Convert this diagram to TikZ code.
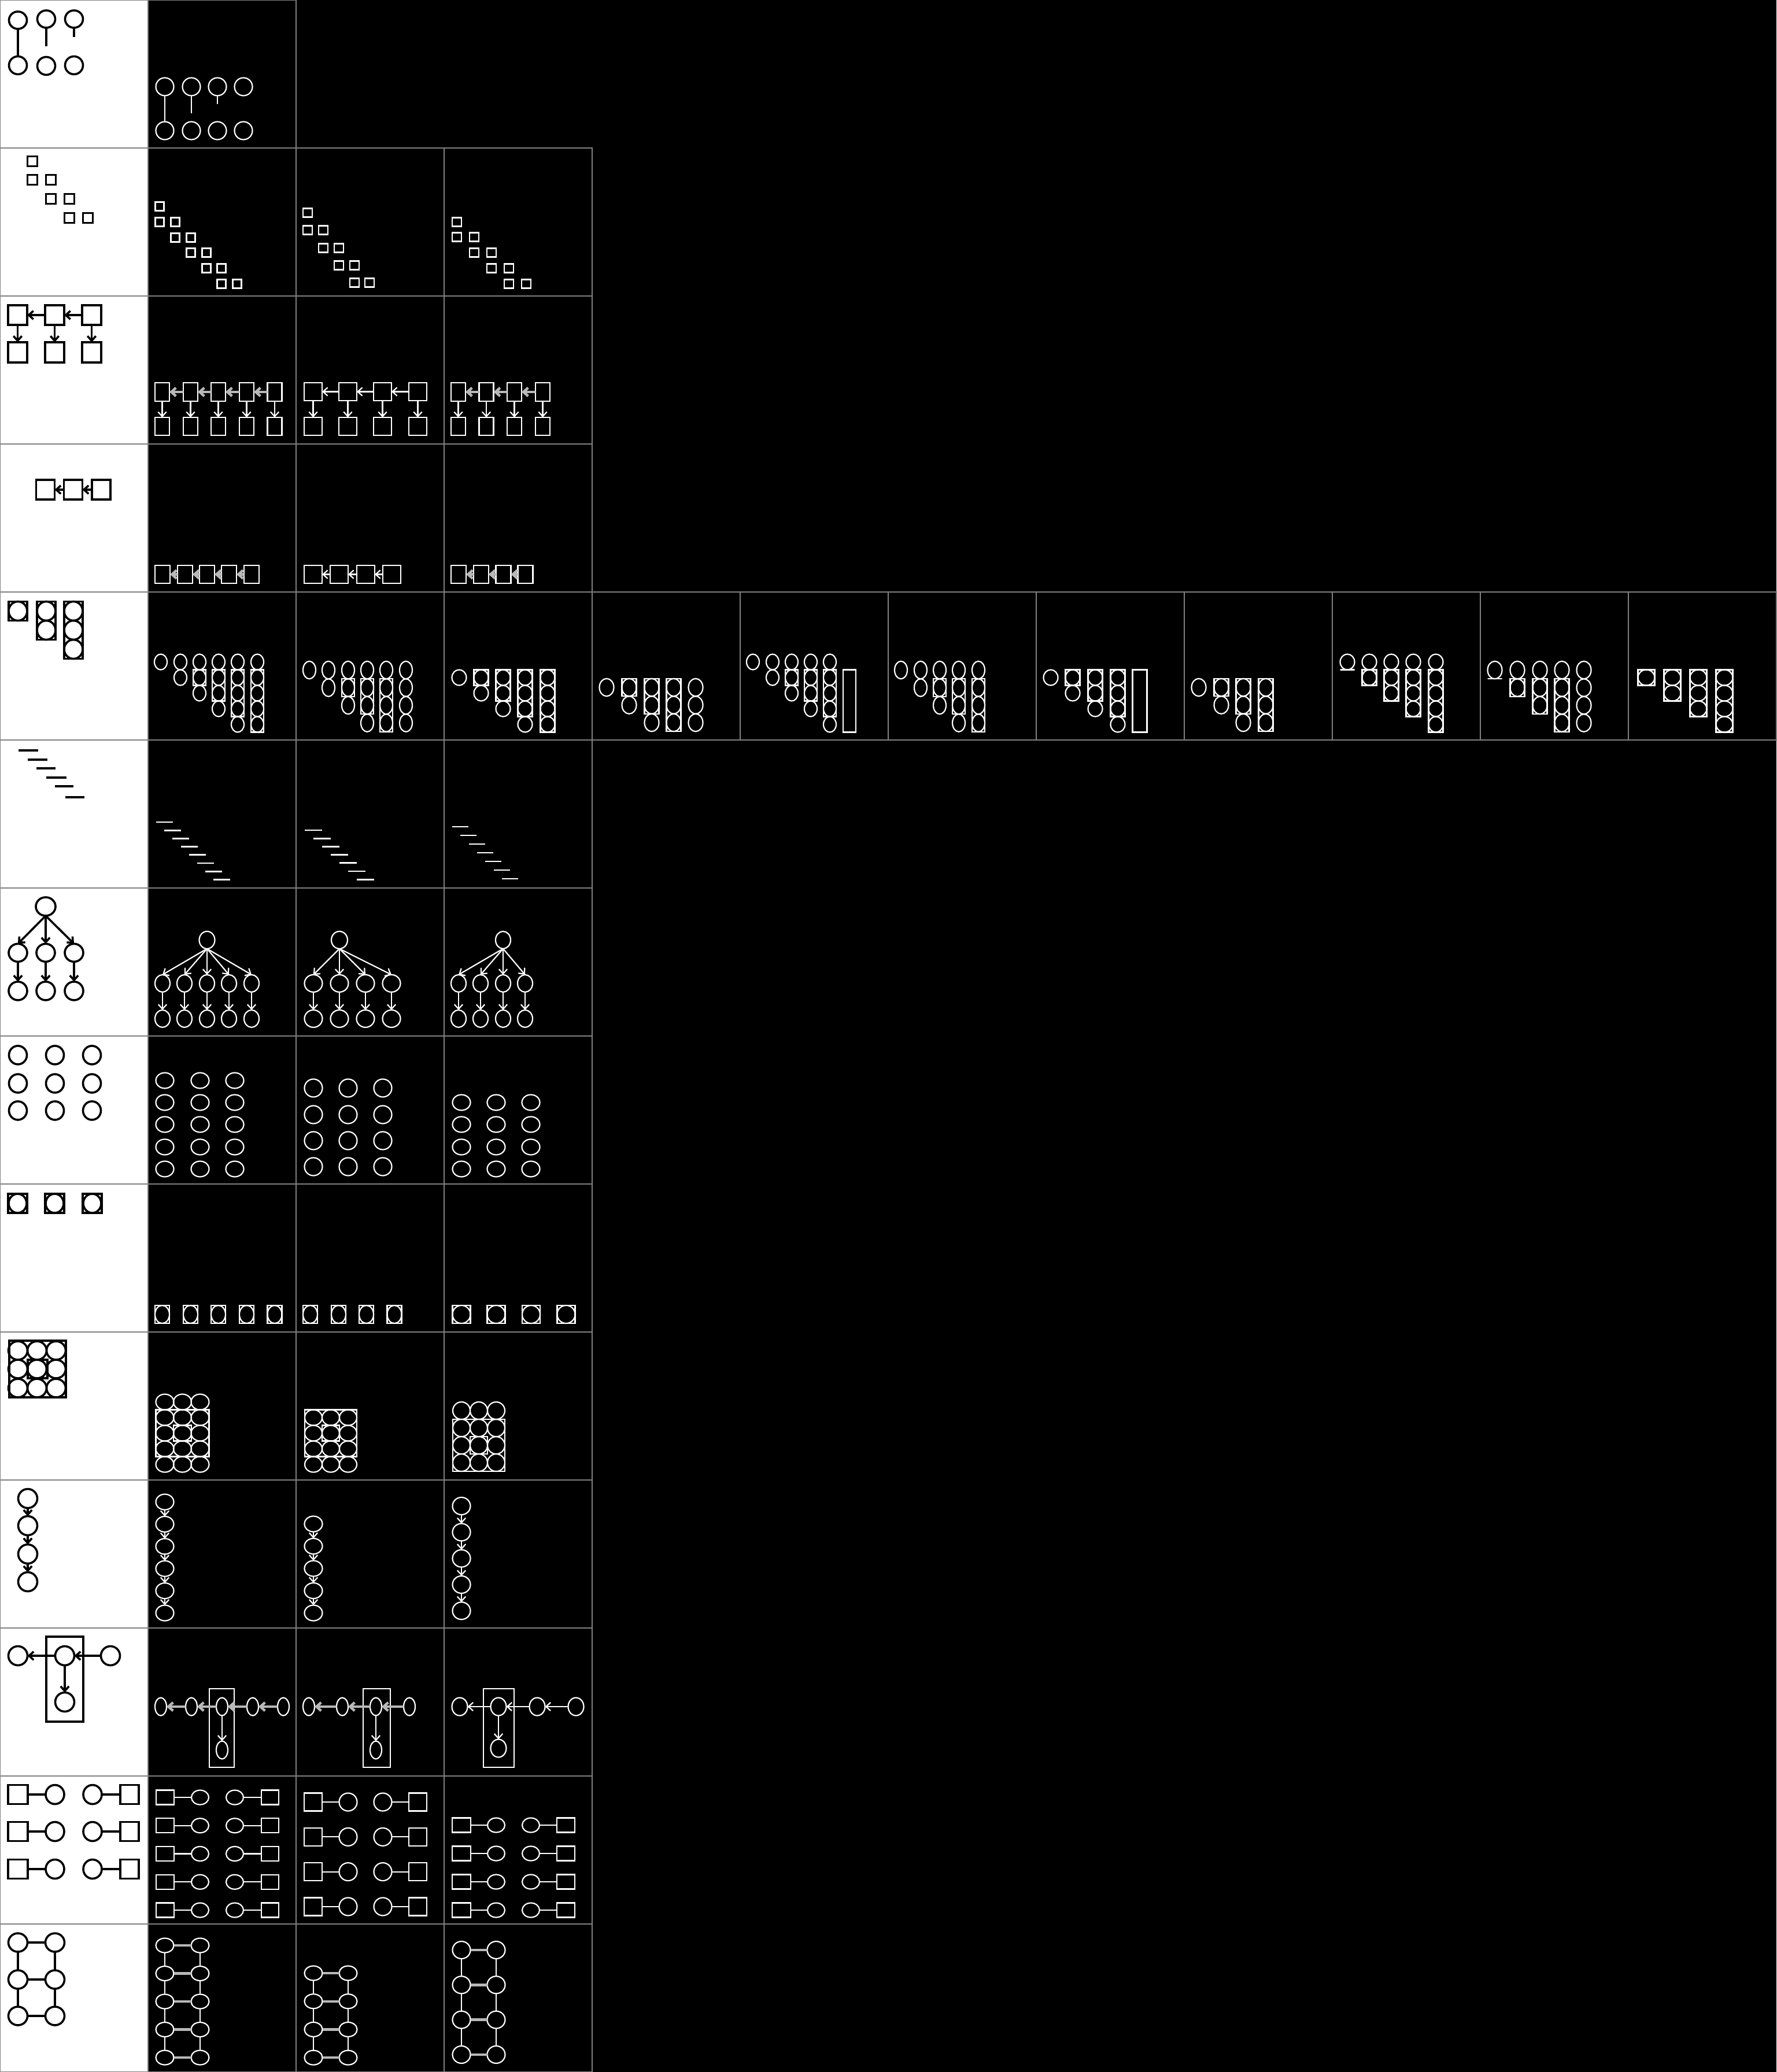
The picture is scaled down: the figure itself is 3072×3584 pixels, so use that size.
\documentclass[tikz,border=0pt]{standalone}
\usetikzlibrary{arrows.meta,shapes.geometric}
\tikzset{
  el/.style 2 args={ellipse,draw,inner sep=0pt,outer sep=0pt,minimum width=#1*0.25pt,minimum height=#2*0.25pt},
  bx/.style 2 args={rectangle,draw,inner sep=0pt,outer sep=0pt,minimum width=#1*0.25pt,minimum height=#2*0.25pt},
  wl/.style={white,line width=0.55pt},
  hd/.style={black,line width=0.9pt},
  handcell/.style={hd},
  arr/.style={-{Straight Barb[length=2pt,width=3.6pt]}},
  gc/.style={draw=gray,line width=0.7pt},
  thk/.style={white!72!black,line width=1.1pt},
}
\newcommand{\stk}[5]{%
  \foreach \xx/\fr/\lr/\ba/\bb in {#5}{%
    \ifnum\fr>\lr\relax\else
      \foreach \i in {\fr,...,\lr}{\node[el={#4}{#3}] (#1-\xx-\i) at (\xx,#2+#3*\i) {};}%
    \fi
    \ifnum\ba<0\relax\else
      \draw (\xx-#4/2,#2+#3*\ba-#3/2) rectangle (\xx+#4/2,#2+#3*\bb+#3/2);%
    \fi
  }}
\begin{document}
\begin{tikzpicture}[x=0.25pt,y=-0.25pt]
\useasboundingbox (0,0) rectangle (3072,3584);
\fill[black] (0,0) rectangle (3072,3584);
\foreach \ri/\nc in {0/1,1/3,2/3,3/3,4/11,5/3,6/3,7/3,8/3,9/3,10/3,11/3,12/3,13/3}{
  \filldraw[gc,fill=white] (0,\ri*256) rectangle (256,\ri*256+256);
  \foreach \ci in {1,...,\nc} \draw[gc] (\ci*256,\ri*256) rectangle (\ci*256+256,\ri*256+256);
}

% ---------- row 0
\begin{scope}[handcell]
  \foreach \x/\yt/\yb [count=\i] in {31/35/113,80/33/114,128/33/113}{
    \node[el={31}{30}] (r0c0t\i) at (\x,\yt) {};
    \node[el={31}{31}] (r0c0b\i) at (\x,\yb) {};
  }
  \coordinate (r0c0e2) at (80,80);
  \coordinate (r0c0e3) at (128,64);
  \draw (r0c0t1) -- (r0c0b1);
  \draw (r0c0t2.south) -- (r0c0e2);
  \draw (r0c0t3.south) -- (r0c0e3);
\end{scope}
\begin{scope}[wl]
  \foreach \x [count=\i] in {285,331,376,421}{
    \node[el={31}{31}] (r0c1t\i) at (\x,150) {};
    \node[el={31}{31}] (r0c1b\i) at (\x,226) {};
  }
  \coordinate (r0c1e2) at (331,196);
  \coordinate (r0c1e3) at (376,180);
  \draw (r0c1t1) -- (r0c1b1);
  \draw (r0c1t2.south) -- (r0c1e2);
  \draw (r0c1t3.south) -- (r0c1e3);
\end{scope}

% ---------- row 1
\begin{scope}[handcell]
  \foreach \x/\y [count=\i] in {56/279,56/311,88/311,88/344,120/344,120/377,152/377}
    \node[bx={17}{17}] (r1c0s\i) at (\x,\y) {};
\end{scope}
\begin{scope}[wl]
  \foreach \x/\y [count=\i] in {276/357,276/384,303/384,303/411,330/411,330/437,357/437,357/464,383/464,383/491,410/491}
    \node[bx={15}{15}] (r1c1s\i) at (\x,\y) {};
  \foreach \x/\y [count=\i] in {532/368,532/398,559/398,559/429,586/429,586/459,613/459,613/489,639/489}
    \node[bx={16}{15}] (r1c2s\i) at (\x,\y) {};
  \foreach \x/\y [count=\i] in {790/384,790/410,820/410,820/437,850/437,850/464,880/464,880/491,910/491}
    \node[bx={16}{15}] (r1c3s\i) at (\x,\y) {};
\end{scope}

% ---------- row 2
\begin{scope}[handcell]
  \foreach \x [count=\i] in {30.5,94.5,158.5}{
    \node[bx={33}{34}] (r2c0t\i) at (\x,545) {};
    \node[bx={33}{35}] (r2c0b\i) at (\x,609.5) {};
    \draw[arr] (r2c0t\i) -- (r2c0b\i);
  }
  \draw[arr] (r2c0t2) -- (r2c0t1);
  \draw[arr] (r2c0t3) -- (r2c0t2);
\end{scope}
\begin{scope}[wl]
  \foreach \x [count=\i] in {280.5,329.5,377.5,426.5,475}{
    \node[bx={25}{32}] (r2c1t\i) at (\x,678) {};
    \node[bx={25}{31}] (r2c1b\i) at (\x,737.5) {};
    \draw[arr] (r2c1t\i) -- (r2c1b\i);
  }
  \foreach \i [count=\j from 2] in {1,...,4} \draw[arr,thk] (r2c1t\j) -- (r2c1t\i);
  \foreach \x [count=\i] in {541.5,601.5,661.5,722.5}{
    \node[bx={31}{31}] (r2c2t\i) at (\x,677.5) {};
    \node[bx={31}{31}] (r2c2b\i) at (\x,737.5) {};
    \draw[arr] (r2c2t\i) -- (r2c2b\i);
  }
  \foreach \i [count=\j from 2] in {1,...,3} \draw[arr] (r2c2t\j) -- (r2c2t\i);
  \foreach \x [count=\i] in {792.5,841,889.5,938.5}{
    \node[bx={25}{32}] (r2c3t\i) at (\x,678) {};
    \node[bx={25}{31}] (r2c3b\i) at (\x,737.5) {};
    \draw[arr] (r2c3t\i) -- (r2c3b\i);
  }
  \foreach \i [count=\j from 2] in {1,...,3} \draw[arr,thk] (r2c3t\j) -- (r2c3t\i);
\end{scope}

% ---------- row 3
\begin{scope}[handcell]
  \foreach \x [count=\i] in {78.5,126.5,175}
    \node[bx={32}{34}] (r3c0t\i) at (\x,847) {};
  \draw[arr] (r3c0t2) -- (r3c0t1);
  \draw[arr] (r3c0t3) -- (r3c0t2);
\end{scope}
\begin{scope}[wl]
  \foreach \x [count=\i] in {281,320,358,396,435}
    \node[bx={26}{31}] (r3c1t\i) at (\x,993.5) {};
  \foreach \i [count=\j from 2] in {1,...,4} \draw[arr,thk] (r3c1t\j) -- (r3c1t\i);
  \foreach \x [count=\i] in {541.5,586.5,632.5,677.5}
    \node[bx={31}{31}] (r3c2t\i) at (\x,993.5) {};
  \foreach \i [count=\j from 2] in {1,...,3} \draw[arr] (r3c2t\j) -- (r3c2t\i);
  \foreach \x [count=\i] in {793,832,870.5,908.5}
    \node[bx={26}{31}] (r3c3t\i) at (\x,993.5) {};
  \foreach \i [count=\j from 2] in {1,...,3} \draw[arr,thk] (r3c3t\j) -- (r3c3t\i);
\end{scope}

% ---------- row 4
\begin{scope}[handcell]
  \stk{r4c0}{1057}{33}{32}{31/0/0/0/0,80/0/1/0/1,127/0/2/0/2}
\end{scope}
\begin{scope}[wl]
  \stk{r4c1}{1145}{27}{22}{278/0/0/-1/0,312/0/1/-1/0,345/0/2/1/1,378/0/3/1/2,411/0/4/1/3,445/0/4/1/4}
  \stk{r4c2}{1159}{30.5}{22}{535/0/0/-1/0,568/0/1/-1/0,602/0/2/1/1,635/0/3/1/2,668/0/3/1/3,702/0/3/-1/0}
  \stk{r4c3}{1172}{27}{25}{794/0/0/-1/0,832/0/1/0/0,870/0/2/0/1,908/0/3/0/2,947/0/3/0/3}
  \stk{r4c4}{1189}{30.5}{25}{1049/0/0/-1/0,1088/0/1/0/0,1127/0/2/0/1,1165/0/2/0/2,1203/0/2/-1/0}
  \stk{r4c5}{1145}{27}{22}{1302/0/0/-1/0,1336/0/1/-1/0,1369/0/2/1/1,1402/0/3/1/2,1435/0/4/1/3,1469/1/0/1/4}
  \stk{r4c6}{1159}{30.5}{22}{1558/0/0/-1/0,1592/0/1/-1/0,1625/0/2/1/1,1658/0/3/1/2,1692/0/3/1/3}
  \stk{r4c7}{1172}{27}{25}{1817/0/0/-1/0,1855/0/1/0/0,1894/0/2/0/1,1933/0/3/0/2,1971/1/0/0/3}
  \stk{r4c8}{1189}{30.5}{25}{2073/0/0/-1/0,2112/0/1/0/0,2150/0/2/0/1,2189/0/2/0/2}
  \stk{r4c9}{1145}{27}{25}{2330/0/0/1/0,2368/0/1/1/1,2406/0/2/1/2,2444/0/3/1/3,2483/0/4/1/4}
  \stk{r4c10}{1159}{30.5}{25}{2585/0/0/1/0,2624/0/1/1/1,2663/0/2/1/2,2701/0/3/1/3,2739/0/3/-1/0}
  \stk{r4c11}{1172}{27}{29}{2847/0/0/0/0,2892/0/1/0/1,2937/0/2/0/2,2982/0/3/0/3}
\end{scope}

% ---------- row 5
\begin{scope}[hd,line width=1.1pt]
  \foreach \xa/\xb/\y in {32/66/1298,48/82/1314,63/96/1329,80/115/1345,95/127/1360,113/146/1379}
    \draw (\xa,\y) -- (\xb,\y);
\end{scope}
\begin{scope}[wl,line width=0.7pt]
  \foreach \i in {0,...,7} \draw (270+14.2*\i,1422+14.2*\i) -- ++(29,0);
  \foreach \i in {0,...,6} \draw (527+15*\i,1436+14.2*\i) -- ++(30,0);
  \foreach \i in {0,...,6} \draw (782+14.3*\i,1430+15*\i) -- ++(28,0);
\end{scope}

% ---------- row 6
\begin{scope}[handcell]
  \node[el={34}{32}] (r6c0r) at (79,1568) {};
  \foreach \x [count=\i] in {31,79,128}{
    \node[el={32}{31}] (r6c0c\i) at (\x,1648) {};
    \node[el={32}{32}] (r6c0g\i) at (\x,1714) {};
    \draw[arr] (r6c0r.south) -- (r6c0c\i.north);
    \draw[arr] (r6c0c\i) -- (r6c0g\i);
  }
\end{scope}
\begin{scope}[wl]
  \node[el={27}{30}] (r6c1r) at (358,1626) {};
  \foreach \x [count=\i] in {281,319,358,396,435}{
    \node[el={26}{30}] (r6c1c\i) at (\x,1701) {};
    \node[el={26}{30}] (r6c1g\i) at (\x,1762) {};
    \draw[arr] (r6c1r.south) -- (r6c1c\i.north);
    \draw[arr] (r6c1c\i) -- (r6c1g\i);
  }
  \node[el={28}{30}] (r6c2r) at (587,1626) {};
  \foreach \x [count=\i] in {542,587,632,677}{
    \node[el={31}{30}] (r6c2c\i) at (\x,1701) {};
    \node[el={31}{30}] (r6c2g\i) at (\x,1762) {};
    \draw[arr] (r6c2r.south) -- (r6c2c\i.north);
    \draw[arr] (r6c2c\i) -- (r6c2g\i);
  }
  \node[el={26}{30}] (r6c3r) at (870,1626) {};
  \foreach \x [count=\i] in {793,831,870,908}{
    \node[el={26}{30}] (r6c3c\i) at (\x,1701) {};
    \node[el={26}{30}] (r6c3g\i) at (\x,1762) {};
    \draw[arr] (r6c3r.south) -- (r6c3c\i.north);
    \draw[arr] (r6c3c\i) -- (r6c3g\i);
  }
\end{scope}

% ---------- row 7
\begin{scope}[handcell]
  \foreach \x [count=\i] in {31,95,159}
    \foreach \y [count=\j] in {1825,1874,1921}
      \node[el={31}{32}] (r7c0n\i\j) at (\x,\y) {};
\end{scope}
\begin{scope}[wl]
  \foreach \x [count=\i] in {285,346,406}
    \foreach \y [count=\j] in {1869,1907,1945,1984,2022}
      \node[el={31}{27}] (r7c1n\i\j) at (\x,\y) {};
  \foreach \x [count=\i] in {542,602,662}
    \foreach \y [count=\j] in {1882,1928,1973,2018}
      \node[el={31}{31}] (r7c2n\i\j) at (\x,\y) {};
  \foreach \x [count=\i] in {798,858,918}
    \foreach \y [count=\j] in {1907,1945,1984,2022}
      \node[el={31}{27}] (r7c3n\i\j) at (\x,\y) {};
\end{scope}

% ---------- row 8
\begin{scope}[handcell]
  \foreach \x [count=\i] in {30.5,94.5,159.5}{
    \node[bx={33}{33}] (r8c0b\i) at (\x,2081.5) {};
    \node[el={31}{33}] (r8c0e\i) at (\x,2081.5) {};
  }
\end{scope}
\begin{scope}[wl]
  \foreach \x [count=\i] in {280.5,329.5,377.5,426.5,475}{
    \node[bx={25}{31}] (r8c1b\i) at (\x,2273.5) {};
    \node[el={25}{31}] (r8c1e\i) at (\x,2273.5) {};
  }
  \foreach \x [count=\i] in {536.5,585.5,633.5,682}{
    \node[bx={25}{31}] (r8c2b\i) at (\x,2273.5) {};
    \node[el={25}{31}] (r8c2e\i) at (\x,2273.5) {};
  }
  \foreach \x [count=\i] in {798,858,918.5,979}{
    \node[bx={31}{31}] (r8c3b\i) at (\x,2273.5) {};
    \node[el={31}{31}] (r8c3e\i) at (\x,2273.5) {};
  }
\end{scope}

% ---------- row 9
\begin{scope}[handcell]
  \foreach \x [count=\i] in {31,64,97}
    \foreach \y [count=\j] in {2336,2368,2401}
      \node[el={33}{32}] (r9c0n\i\j) at (\x,\y) {};
  \draw (16,2319) rectangle (114,2417);
  \draw (48,2352) rectangle (82,2384);
\end{scope}
\begin{scope}[wl]
  \foreach \x [count=\i] in {285,315.5,346}
    \foreach \y [count=\j] in {2425,2452,2479,2506,2533}
      \node[el={31}{27}] (r9c1n\i\j) at (\x,\y) {};
  \draw (269.5,2438.5) rectangle (361.5,2519.5);
  \draw (300,2465.5) rectangle (331,2492.5);
  \foreach \x [count=\i] in {542,572,602}
    \foreach \y [count=\j] in {2452,2479,2506,2533}
      \node[el={30}{27}] (r9c2n\i\j) at (\x,\y) {};
  \draw (527,2438.5) rectangle (617,2519.5);
  \draw (557,2465.5) rectangle (587,2492.5);
  \foreach \x [count=\i] in {798,828,858}
    \foreach \y [count=\j] in {2440,2470,2500,2530}
      \node[el={30}{30}] (r9c3n\i\j) at (\x,\y) {};
  \draw (783,2455) rectangle (873,2545);
  \draw (813,2485) rectangle (843,2515);
\end{scope}

% ---------- row 10
\begin{scope}[handcell]
  \foreach \y [count=\i] in {2592,2639,2688,2736}
    \node[el={33}{33}] (r10c0n\i) at (48,\y) {};
  \foreach \i [count=\j from 2] in {1,...,3} \draw[arr] (r10c0n\i) -- (r10c0n\j);
\end{scope}
\begin{scope}[wl]
  \foreach \i in {0,...,5} \node[el={31}{27}] (r10c1n\i) at (285,2598+38.4*\i) {};
  \foreach \i [count=\j from 1] in {0,...,4} \draw[arr] (r10c1n\i) -- (r10c1n\j);
  \foreach \i in {0,...,4} \node[el={31}{27}] (r10c2n\i) at (542,2636+38.5*\i) {};
  \foreach \i [count=\j from 1] in {0,...,3} \draw[arr] (r10c2n\i) -- (r10c2n\j);
  \foreach \i in {0,...,4} \node[el={31}{30}] (r10c3n\i) at (798,2605+45.3*\i) {};
  \foreach \i [count=\j from 1] in {0,...,3} \draw[arr] (r10c3n\i) -- (r10c3n\j);
\end{scope}

% ---------- row 11
\begin{scope}[handcell]
  \draw (80,2831) rectangle (144,2978);
  \node[el={33}{33}] (r11c0L) at (31,2864) {};
  \node[el={33}{33}] (r11c0C) at (112,2864) {};
  \node[el={33}{33}] (r11c0R) at (191,2864) {};
  \node[el={33}{33}] (r11c0B) at (112,2944) {};
  \draw[arr] (r11c0C) -- (r11c0L);
  \draw[arr] (r11c0R) -- (r11c0C);
  \draw[arr] (r11c0C) -- (r11c0B);
\end{scope}
\begin{scope}[wl]
  \draw (362,2921) rectangle (405,3057);
  \foreach \x [count=\i] in {278,331,384,437,490} \node[el={20}{31}] (r11c1n\i) at (\x,2952) {};
  \node[el={20}{31}] (r11c1B) at (384,3027) {};
  \foreach \i [count=\j from 2] in {1,...,4} \draw[arr,thk] (r11c1n\j) -- (r11c1n\i);
  \draw[arr] (r11c1n3) -- (r11c1B);
  \draw (628,2921) rectangle (675,3057);
  \foreach \x [count=\i] in {534,592,650,708} \node[el={20}{31}] (r11c2n\i) at (\x,2952) {};
  \node[el={20}{31}] (r11c2B) at (650,3027) {};
  \foreach \i [count=\j from 2] in {1,...,3} \draw[arr,thk] (r11c2n\j) -- (r11c2n\i);
  \draw[arr] (r11c2n3) -- (r11c2B);
  \draw (836,2921) rectangle (889,3057);
  \foreach \x [count=\i] in {795,862,929,996} \node[el={27}{31}] (r11c3n\i) at (\x,2952) {};
  \node[el={27}{31}] (r11c3B) at (862,3024) {};
  \foreach \i [count=\j from 2] in {1,...,3} \draw[arr] (r11c3n\j) -- (r11c3n\i);
  \draw[arr] (r11c3n2) -- (r11c3B);
\end{scope}

% ---------- row 12
\begin{scope}[handcell]
  \foreach \y [count=\i] in {3104,3168,3233}{
    \node[bx={34}{33}] (r12c0a\i) at (31,\y) {};
    \node[el={32}{33}] (r12c0b\i) at (95,\y) {};
    \node[el={32}{33}] (r12c0c\i) at (160,\y) {};
    \node[bx={32}{33}] (r12c0d\i) at (224,\y) {};
    \draw (r12c0a\i) -- (r12c0b\i);
    \draw (r12c0c\i) -- (r12c0d\i);
  }
\end{scope}
\begin{scope}[wl]
  \foreach \i in {0,...,4}{
    \pgfmathsetmacro\yy{3109+48.75*\i}
    \node[bx={31}{25}] (r12c1a\i) at (285.5,\yy) {};
    \node[el={30}{25}] (r12c1b\i) at (346,\yy) {};
    \node[el={30}{25}] (r12c1c\i) at (406,\yy) {};
    \node[bx={30}{25}] (r12c1d\i) at (467,\yy) {};
    \draw (r12c1a\i) -- (r12c1b\i);
    \draw (r12c1c\i) -- (r12c1d\i);
  }
  \foreach \i in {0,...,3}{
    \pgfmathsetmacro\yy{3117+60.3*\i}
    \node[bx={31}{31}] (r12c2a\i) at (541.5,\yy) {};
    \node[el={31}{31}] (r12c2b\i) at (602,\yy) {};
    \node[el={31}{31}] (r12c2c\i) at (662,\yy) {};
    \node[bx={31}{31}] (r12c2d\i) at (722.5,\yy) {};
    \draw (r12c2a\i) -- (r12c2b\i);
    \draw (r12c2c\i) -- (r12c2d\i);
  }
  \foreach \i in {0,...,3}{
    \pgfmathsetmacro\yy{3157+49*\i}
    \node[bx={32}{25}] (r12c3a\i) at (798,\yy) {};
    \node[el={30}{25}] (r12c3b\i) at (858,\yy) {};
    \node[el={30}{25}] (r12c3c\i) at (918,\yy) {};
    \node[bx={31}{25}] (r12c3d\i) at (978.5,\yy) {};
    \draw (r12c3a\i) -- (r12c3b\i);
    \draw (r12c3c\i) -- (r12c3d\i);
  }
\end{scope}

% ---------- row 13
\begin{scope}[handcell]
  \foreach \y [count=\i] in {3360,3424,3487}{
    \node[el={33}{32}] (r13c0l\i) at (31,\y) {};
    \node[el={33}{32}] (r13c0r\i) at (95,\y) {};
    \draw (r13c0l\i) -- (r13c0r\i);
  }
  \foreach \i [count=\j from 2] in {1,2}{
    \draw (r13c0l\i) -- (r13c0l\j);
    \draw (r13c0r\i) -- (r13c0r\j);
  }
\end{scope}
\begin{scope}[wl]
  \foreach \i in {0,...,4}{
    \pgfmathsetmacro\yy{3365+48.5*\i}
    \node[el={31}{25}] (r13c1l\i) at (285,\yy) {};
    \node[el={31}{25}] (r13c1r\i) at (346,\yy) {};
    \draw[thk] (r13c1l\i) -- (r13c1r\i);
  }
  \foreach \i [count=\j from 1] in {0,...,3}{
    \draw (r13c1l\i) -- (r13c1l\j);
    \draw (r13c1r\i) -- (r13c1r\j);
  }
  \foreach \i in {0,...,3}{
    \pgfmathsetmacro\yy{3413+48.7*\i}
    \node[el={31}{25}] (r13c2l\i) at (542,\yy) {};
    \node[el={31}{25}] (r13c2r\i) at (602,\yy) {};
    \draw[thk] (r13c2l\i) -- (r13c2r\i);
  }
  \foreach \i [count=\j from 1] in {0,...,2}{
    \draw (r13c2l\i) -- (r13c2l\j);
    \draw (r13c2r\i) -- (r13c2r\j);
  }
  \foreach \i in {0,...,3}{
    \pgfmathsetmacro\yy{3373+60.3*\i}
    \node[el={31}{30}] (r13c3l\i) at (798,\yy) {};
    \node[el={31}{30}] (r13c3r\i) at (858,\yy) {};
    \draw[thk] (r13c3l\i) -- (r13c3r\i);
  }
  \foreach \i [count=\j from 1] in {0,...,2}{
    \draw (r13c3l\i) -- (r13c3l\j);
    \draw (r13c3r\i) -- (r13c3r\j);
  }
\end{scope}
\end{tikzpicture}
\end{document}
